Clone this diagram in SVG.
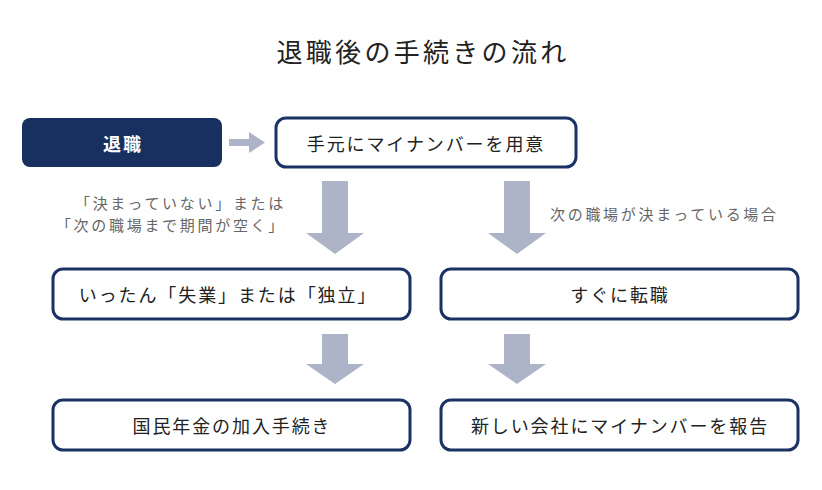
<svg xmlns="http://www.w3.org/2000/svg" width="822" height="490" viewBox="0 0 822 490">
<style>
text{font-family:"Noto Sans CJK JP","Noto Sans CJK SC",sans-serif;}
.box{fill:#fff;stroke:#1b3364;stroke-width:3;}
.lbl{font-size:18px;letter-spacing:1.9px;fill:#222;text-anchor:middle;dominant-baseline:central;}
.note{font-size:15px;letter-spacing:2.7px;fill:#666;dominant-baseline:central;}
.arr{fill:#adb4c7;}
</style>
<rect width="822" height="490" fill="#fff"/>
<text x="423" y="50" font-size="26" letter-spacing="3.3" fill="#222" text-anchor="middle" dominant-baseline="central">退職後の手続きの流れ</text>
<g id="connectors">
<polygon class="arr" points="229,139 249,139 249,132 265,142.5 249,153 249,146 229,146"/>
<polygon class="arr" points="322,181 348,181 348,233 364,233 335,254 306,233 322,233"/>
<polygon class="arr" points="504,181 530,181 530,233 546,233 517,254 488,233 504,233"/>
<polygon class="arr" points="322,334 348,334 348,364 364,364 335,384 306,364 322,364"/>
<polygon class="arr" points="504,334 530,334 530,364 546,364 517,384 488,364 504,364"/>
</g>
<g id="note-left">
<text class="note" x="286" y="202" text-anchor="end">「決まっていない」または</text>
<text class="note" x="286" y="224" text-anchor="end">「次の職場まで期間が空く」</text>
</g>
<g id="note-right">
<text class="note" x="550" y="213">次の職場が決まっている場合</text>
</g>
<g id="n-taishoku">
<rect x="22" y="118" width="200" height="49" rx="8" fill="#17305f"/>
<text x="123" y="142.5" font-size="18" letter-spacing="2" font-weight="bold" fill="#fff" text-anchor="middle" dominant-baseline="central">退職</text>
</g>
<g id="n-mynumber">
<rect class="box" x="276" y="118" width="300" height="49" rx="10"/>
<text class="lbl" x="426" y="142.5">手元にマイナンバーを用意</text>
</g>
<g id="n-shitsugyo">
<rect class="box" x="53" y="269" width="357" height="50" rx="10"/>
<text class="lbl" x="228" y="294">いったん「失業」または「独立」</text>
</g>
<g id="n-tenshoku">
<rect class="box" x="441" y="269" width="357" height="50" rx="10"/>
<text class="lbl" x="620" y="294">すぐに転職</text>
</g>
<g id="n-nenkin">
<rect class="box" x="53" y="400" width="357" height="50" rx="10"/>
<text class="lbl" x="232" y="425">国民年金の加入手続き</text>
</g>
<g id="n-houkoku">
<rect class="box" x="441" y="400" width="357" height="50" rx="10"/>
<text class="lbl" x="620" y="425">新しい会社にマイナンバーを報告</text>
</g>
</svg>
